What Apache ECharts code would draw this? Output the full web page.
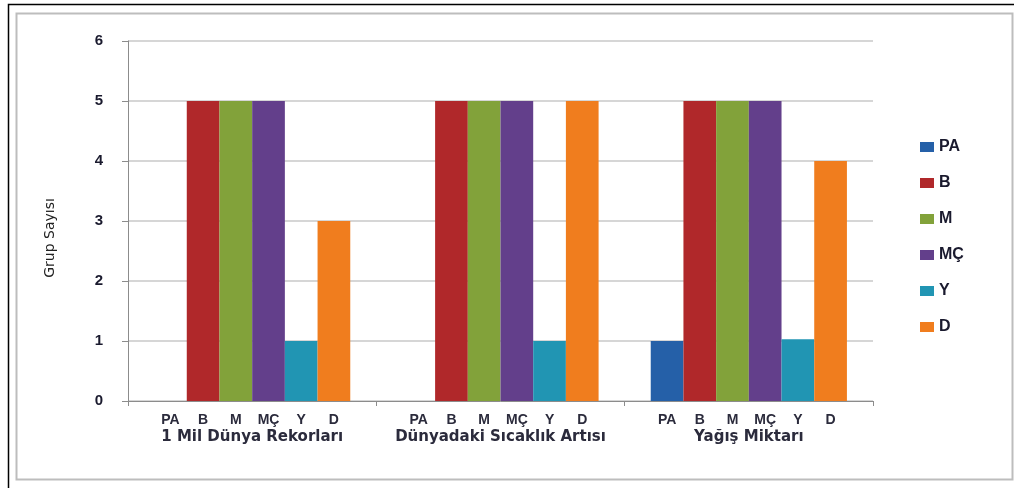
<!DOCTYPE html>
<html>
<head>
<meta charset="utf-8">
<script src="https://cdn.jsdelivr.net/npm/echarts@6/dist/echarts.min.js"></script>
<style>
  html, body { margin: 0; padding: 0; background: #fff; }
  #chart { width: 1014px; height: 488px; }
</style>
</head>
<body>
<div id="chart"></div>
<script>
// Topics (x-axis groups) and the answer types plotted for each of them
const groups = ['1 Mil Dünya Rekorları', 'Dünyadaki Sıcaklık Artısı', 'Yağış Miktarı'];
const seriesNames = ['PA', 'B', 'M', 'MÇ', 'Y', 'D'];

// Number of groups per answer type, one value per topic
const valuesPA = [0, 0, 1];
const valuesB  = [5, 5, 5];
const valuesM  = [5, 5, 5];
const valuesMC = [5, 5, 5];
const valuesY  = [1, 1, 1.03];
const valuesD  = [3, 5, 4];

const yTicks = [0, 1, 2, 3, 4, 5, 6];

const colors = ['#2560a8', '#b0282a', '#82a23a', '#633f8b', '#2195b3', '#f07d1e'];
const seriesValues = [valuesPA, valuesB, valuesM, valuesMC, valuesY, valuesD];

const chart = echarts.init(document.getElementById('chart'), null, { renderer: 'canvas' });

const font = 'Arial, "Liberation Sans", sans-serif';
const wideFont = '"DejaVu Sans", Verdana, sans-serif';
const subW = 32.7;

const option = {
  animation: false,
  backgroundColor: '#ffffff',
  textStyle: { fontFamily: font },
  graphic: [
    {
      type: 'rect', silent: true, z: -1,
      shape: { x: 8.5, y: 4.5, width: 1020, height: 500 },
      style: { fill: null, stroke: '#000', lineWidth: 1.5 }
    },
    {
      type: 'rect', silent: true, z: -1,
      shape: { x: 16.5, y: 13.5, width: 996, height: 466 },
      style: { fill: null, stroke: '#bdbdbd', lineWidth: 2 }
    },
    {
      // y-axis title, set a little below the plot's middle
      type: 'text', silent: true,
      x: 50, y: 238, rotation: Math.PI / 2,
      style: {
        text: 'Grup Sayısı', font: '14px ' + wideFont, fill: '#222',
        align: 'center', verticalAlign: 'middle'
      }
    }
  ],
  grid: { left: 128, right: 141, top: 41, bottom: 87, containLabel: false },
  legend: {
    orient: 'vertical',
    left: 915,
    top: 134,
    itemWidth: 14,
    itemHeight: 10,
    itemGap: 20,
    icon: 'rect',
    textStyle: { fontSize: 16, color: '#1a1a2e', fontWeight: 'bold', fontFamily: font },
    data: seriesNames
  },
  xAxis: {
    type: 'category',
    data: groups,
    axisLine: { lineStyle: { color: '#8c8c8c', width: 1 } },
    axisTick: { show: true, length: 5, lineStyle: { color: '#8c8c8c' } },
    axisLabel: {
      margin: 11,
      interval: 0,
      formatter: function (name) {
        const subs = seriesNames.map(s => '{s|' + s + '}').join('');
        return subs + '\n{g|' + name + '}';
      },
      rich: {
        s: { width: subW, align: 'center', fontSize: 14, fontWeight: 'bold', color: '#2b2b3c', fontFamily: font, lineHeight: 17 },
        g: { fontSize: 15, fontWeight: 'bold', color: '#2b2b3c', fontFamily: wideFont, lineHeight: 17 }
      }
    },
    splitLine: { show: false }
  },
  yAxis: {
    type: 'value',
    min: yTicks[0],
    max: yTicks[yTicks.length - 1],
    interval: 1,
    axisLine: { show: true, lineStyle: { color: '#8c8c8c' } },
    axisTick: { show: true, length: 6, lineStyle: { color: '#8c8c8c' } },
    axisLabel: { margin: 25, fontSize: 15, fontWeight: 'bold', color: '#1a1a2e', fontFamily: font },
    splitLine: { show: true, lineStyle: { color: '#c8c8c8', width: 1.5 } }
  },
  series: seriesNames.map((name, i) => ({
    name: name,
    type: 'bar',
    data: seriesValues[i],
    barGap: '0%',
    barCategoryGap: '21%',
    itemStyle: { color: colors[i] }
  }))
};

chart.setOption(option);
</script>
</body>
</html>
